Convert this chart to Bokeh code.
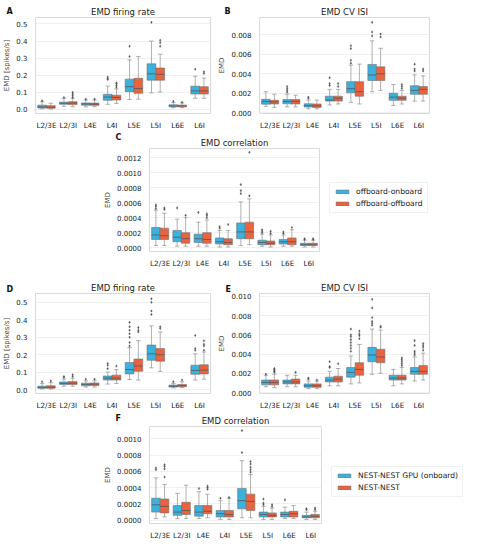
from bokeh.plotting import figure
from bokeh.layouts import column, row
from bokeh.models import (FactorRange, Range1d, ColumnDataSource, FixedTicker,
                          PrintfTickFormatter, Legend, LegendItem, Spacer)
from bokeh.transform import dodge
from bokeh.core.properties import value
from bokeh.embed import file_html
from bokeh.resources import INLINE

cats = ["L2/3E", "L2/3I", "L4E", "L4I", "L5E", "L5I", "L6E", "L6I"]

# each row: [lower whisker, q1, median, q3, upper whisker]
A_blue = [[0.003, 0.008, 0.015, 0.025, 0.045], [0.018, 0.030, 0.036, 0.042, 0.065],
          [0.015, 0.025, 0.032, 0.038, 0.055], [0.030, 0.053, 0.072, 0.088, 0.136],
          [0.058, 0.104, 0.133, 0.177, 0.290], [0.097, 0.171, 0.208, 0.267, 0.400],
          [0.010, 0.015, 0.020, 0.027, 0.040], [0.065, 0.090, 0.108, 0.136, 0.194]]
A_blue_out = [[0.05], [0.07], [0.06], [0.175, 0.18, 0.19], [0.31, 0.37], [0.51], [0.048], [0.235]]
A_orange = [[0.002, 0.007, 0.013, 0.022, 0.036], [0.015, 0.028, 0.037, 0.045, 0.065],
            [0.016, 0.024, 0.030, 0.037, 0.055], [0.035, 0.055, 0.070, 0.083, 0.120],
            [0.060, 0.094, 0.122, 0.182, 0.310], [0.102, 0.171, 0.205, 0.242, 0.323],
            [0.010, 0.015, 0.020, 0.025, 0.038], [0.065, 0.090, 0.108, 0.133, 0.183]]
A_orange_out = [[], [0.07, 0.08, 0.09, 0.10], [0.06], [0.13, 0.14, 0.15, 0.155], [],
                [0.37, 0.39, 0.405], [0.042], [0.21, 0.22]]

B_blue = [[0.00066, 0.00088, 0.00116, 0.00138, 0.00216], [0.0006, 0.00092, 0.00115, 0.00135, 0.0019],
          [0.0004, 0.00058, 0.00072, 0.00092, 0.0013], [0.0008, 0.0012, 0.0013, 0.0017, 0.0024],
          [0.00106, 0.00206, 0.00247, 0.0032, 0.0049], [0.00216, 0.00331, 0.00388, 0.00497, 0.0074],
          [0.00075, 0.00128, 0.0016, 0.0020, 0.0029], [0.0012, 0.0019, 0.0023, 0.00278, 0.0039]]
B_blue_out = [[], [0.0021, 0.0023, 0.0025, 0.0027], [0.0015, 0.0016], [0.0028, 0.0030, 0.0036],
              [0.0051, 0.0054, 0.0066, 0.0069], [0.0079, 0.0083, 0.0093], [], [0.0043, 0.0045, 0.0050]]
B_orange = [[0.00056, 0.0009, 0.00112, 0.00128, 0.0019], [0.0006, 0.0009, 0.00118, 0.00135, 0.0018],
            [0.0004, 0.00055, 0.0007, 0.0009, 0.0013], [0.0009, 0.0012, 0.0015, 0.0017, 0.0024],
            [0.0009, 0.0017, 0.00216, 0.0032, 0.0050], [0.0023, 0.00331, 0.0040, 0.00472, 0.00663],
            [0.0009, 0.00128, 0.0015, 0.0017, 0.0023], [0.0012, 0.0019, 0.0024, 0.0027, 0.0038]]
B_orange_out = [[], [], [], [0.0027, 0.0030], [], [0.0078, 0.0081], [0.0025, 0.0027, 0.0029], [0.0043, 0.0045]]

C_blue = [[3e-5, 11e-5, 17e-5, 27e-5, 50e-5], [2e-5, 8e-5, 14e-5, 23e-5, 38e-5],
          [2e-5, 7e-5, 12e-5, 18e-5, 34e-5], [1e-5, 5e-5, 8e-5, 13e-5, 23e-5],
          [3e-5, 12e-5, 21e-5, 33e-5, 61e-5], [2e-5, 4e-5, 7e-5, 10e-5, 18e-5],
          [2e-5, 5e-5, 8e-5, 11e-5, 17e-5], [1e-5, 3e-5, 4e-5, 6e-5, 10e-5]]
C_blue_out = [[52e-5, 55e-5, 57e-5], [53e-5], [47e-5], [26e-5, 28e-5], [72e-5, 76e-5, 84e-5],
              [20e-5, 22e-5, 24e-5], [19e-5, 21e-5], [11e-5, 12e-5]]
C_orange = [[3e-5, 11e-5, 16e-5, 26e-5, 46e-5], [2e-5, 6e-5, 12e-5, 20e-5, 40e-5],
            [2e-5, 6e-5, 11e-5, 20e-5, 37e-5], [1e-5, 4e-5, 7e-5, 12e-5, 23e-5],
            [4e-5, 12e-5, 21e-5, 34e-5, 65e-5], [1e-5, 4e-5, 6e-5, 9e-5, 17e-5],
            [2e-5, 4e-5, 8e-5, 13e-5, 24e-5], [1e-5, 3e-5, 4e-5, 6e-5, 10e-5]]
C_orange_out = [[51e-5, 53e-5], [43e-5], [40e-5, 43e-5, 45e-5], [31e-5], [69e-5, 127e-5],
                [19e-5, 22e-5], [27e-5], [11e-5, 12e-5]]

D_blue = [[0.004, 0.008, 0.013, 0.020, 0.035], [0.020, 0.030, 0.036, 0.044, 0.060],
          [0.015, 0.022, 0.030, 0.037, 0.050], [0.032, 0.055, 0.066, 0.078, 0.100],
          [0.058, 0.090, 0.115, 0.155, 0.240], [0.125, 0.168, 0.205, 0.255, 0.365],
          [0.010, 0.015, 0.020, 0.026, 0.036], [0.055, 0.088, 0.110, 0.140, 0.205]]
D_blue_out = [[0.045], [0.070, 0.075], [0.060], [0.12, 0.14, 0.15],
              [0.25, 0.27, 0.30, 0.32, 0.34, 0.36, 0.385], [0.43, 0.45, 0.50, 0.52], [0.045],
              [0.225, 0.235, 0.31]]
D_orange = [[0.004, 0.008, 0.014, 0.022, 0.040], [0.020, 0.030, 0.037, 0.046, 0.065],
            [0.015, 0.024, 0.031, 0.038, 0.050], [0.035, 0.055, 0.066, 0.083, 0.115],
            [0.055, 0.105, 0.135, 0.175, 0.280], [0.105, 0.163, 0.200, 0.235, 0.330],
            [0.012, 0.017, 0.023, 0.029, 0.045], [0.060, 0.090, 0.112, 0.142, 0.215]]
D_orange_out = [[0.050], [0.075, 0.085], [0.060], [0.135], [0.33, 0.34, 0.355], [0.35, 0.36],
                [0.055], [0.225, 0.25, 0.26, 0.28]]

E_blue = [[0.0006, 0.0008, 0.00105, 0.0013, 0.0018], [0.0006, 0.0009, 0.0011, 0.0013, 0.0018],
          [0.0004, 0.00055, 0.0007, 0.0009, 0.0012], [0.0007, 0.0011, 0.0013, 0.0016, 0.0022],
          [0.0009, 0.0016, 0.0021, 0.0026, 0.0038], [0.0019, 0.0032, 0.0039, 0.0047, 0.0066],
          [0.0007, 0.0013, 0.0015, 0.0018, 0.0024], [0.0012, 0.0019, 0.0022, 0.0026, 0.0037]]
E_blue_out = [[0.0019], [], [0.0014, 0.0015], [0.0026, 0.0027, 0.0032],
              [0.0043, 0.0046, 0.0049, 0.0052, 0.0055, 0.0058, 0.0060, 0.0066],
              [0.0070, 0.0072, 0.0074, 0.0078, 0.0088, 0.0097], [],
              [0.0039, 0.0041, 0.0043, 0.0049, 0.0054]]
E_orange = [[0.0005, 0.0008, 0.00105, 0.0013, 0.0019], [0.0006, 0.0009, 0.0011, 0.0014, 0.0018],
            [0.0004, 0.00055, 0.0007, 0.0009, 0.0012], [0.0007, 0.0011, 0.0014, 0.0017, 0.0025],
            [0.0010, 0.0018, 0.0024, 0.0031, 0.0050], [0.0020, 0.0031, 0.0037, 0.0045, 0.0065],
            [0.0009, 0.0013, 0.0015, 0.0018, 0.0026], [0.0013, 0.0019, 0.0022, 0.0028, 0.0041]]
E_orange_out = [[0.0021, 0.0022, 0.0023, 0.0024, 0.0025], [0.0021], [0.0013], [0.0030],
                [0.0056, 0.0059, 0.0061, 0.0064], [0.0068, 0.0069],
                [0.0028, 0.0030, 0.0032, 0.0034, 0.0036], [0.0044, 0.0047, 0.0049, 0.0051]]

F_blue = [[2e-5, 10e-5, 19e-5, 27e-5, 52e-5], [2e-5, 6e-5, 10e-5, 18e-5, 33e-5],
          [2e-5, 5e-5, 10e-5, 18e-5, 35e-5], [1e-5, 4e-5, 8e-5, 12e-5, 24e-5],
          [3e-5, 14e-5, 24e-5, 39e-5, 73e-5], [1e-5, 4e-5, 7e-5, 10e-5, 17e-5],
          [2e-5, 4e-5, 7e-5, 10e-5, 16e-5], [1e-5, 3e-5, 4e-5, 6e-5, 10e-5]]
F_blue_out = [[62e-5, 64e-5], [], [39e-5], [27e-5], [83e-5, 110e-5], [19e-5, 21e-5, 26e-5],
              [25e-5], [13e-5, 14e-5]]
F_orange = [[4e-5, 9e-5, 17e-5, 26e-5, 44e-5], [2e-5, 7e-5, 12e-5, 22e-5, 43e-5],
            [3e-5, 8e-5, 11e-5, 18e-5, 32e-5], [1e-5, 4e-5, 7e-5, 12e-5, 27e-5],
            [3e-5, 12e-5, 23e-5, 32e-5, 56e-5], [1e-5, 4e-5, 6e-5, 9e-5, 15e-5],
            [2e-5, 4e-5, 8e-5, 11e-5, 18e-5], [1e-5, 3e-5, 5e-5, 7e-5, 11e-5]]
F_orange_out = [[53e-5, 63e-5, 66e-5, 68e-5], [], [38e-5, 40e-5, 42e-5], [28e-5],
                [59e-5, 62e-5, 65e-5, 69e-5, 72e-5], [17e-5, 19e-5], [], [13e-5, 15e-5]]

titles = ["EMD firing rate", "EMD CV ISI", "EMD correlation"]
ylabels = ["EMD [spikes/s]", "EMD", "EMD"]
letters = ["A", "B", "C", "D", "E", "F"]
legend_top = ["offboard-onboard", "offboard-offboard"]
legend_bottom = ["NEST-NEST GPU (onboard)", "NEST-NEST"]

BLUE = "#3cb1dd"
ORANGE = "#e8633e"
EDGE = "#6e6e6e"
WHISK = "#9a9a9a"
FONT = "DejaVu Sans"


def add_series(p, stats, outs, off, color):
    src = ColumnDataSource(dict(cat=cats,
                                wl=[s[0] for s in stats], q1=[s[1] for s in stats],
                                med=[s[2] for s in stats], q3=[s[3] for s in stats],
                                wh=[s[4] for s in stats]))
    xc = dodge("cat", off, range=p.x_range)
    p.segment(x0=xc, y0="q3", x1=xc, y1="wh", source=src, line_color=WHISK, line_width=0.8)
    p.segment(x0=xc, y0="q1", x1=xc, y1="wl", source=src, line_color=WHISK, line_width=0.8)
    for yk in ("wh", "wl"):
        p.segment(x0=dodge("cat", off - 0.1, range=p.x_range), y0=yk,
                  x1=dodge("cat", off + 0.1, range=p.x_range), y1=yk,
                  source=src, line_color=WHISK, line_width=0.8)
    p.vbar(x=xc, bottom="q1", top="q3", width=0.4, source=src,
           fill_color=color, line_color=EDGE, line_width=0.6)
    p.segment(x0=dodge("cat", off - 0.2, range=p.x_range), y0="med",
              x1=dodge("cat", off + 0.2, range=p.x_range), y1="med",
              source=src, line_color="#555555", line_width=0.8)
    ox, oy = [], []
    for c, vals in zip(cats, outs):
        for v in vals:
            ox.append(c)
            oy.append(v)
    osrc = ColumnDataSource(dict(cat=ox, y=oy))
    p.scatter(x=dodge("cat", off, range=p.x_range), y="y", source=osrc, marker="diamond",
              size=2.6, fill_color="#555555", line_color="#555555", line_width=0.3)


def panel(blue, blue_out, orange, orange_out, title, ylabel, yr, ticks, fmt,
          w, h, bl, bt, fw, fh):
    p = figure(width=w, height=h, x_range=FactorRange(factors=cats),
               y_range=Range1d(*yr), output_backend="svg", toolbar_location=None,
               min_border_left=bl, min_border_top=bt,
               min_border_right=w - bl - fw, min_border_bottom=h - bt - fh)
    p.title.text = title
    p.title.align = "center"
    p.title.text_font = FONT
    p.title.text_font_size = "8.5px"
    p.title.text_font_style = "normal"
    p.title.text_color = "#222222"
    p.title.standoff = 1
    p.outline_line_color = "#cfcfcf"
    p.outline_line_width = 0.8
    p.xgrid.grid_line_color = None
    p.ygrid.grid_line_color = "#ececec"
    p.ygrid.grid_line_width = 0.8
    p.yaxis.ticker = FixedTicker(ticks=ticks)
    p.yaxis.formatter = PrintfTickFormatter(format=fmt)
    p.yaxis.axis_label = ylabel
    p.yaxis.axis_label_text_font = FONT
    p.yaxis.axis_label_text_font_size = "7px"
    p.yaxis.axis_label_text_font_style = "normal"
    p.yaxis.axis_label_standoff = 2
    for ax in (p.xaxis, p.yaxis):
        ax.axis_line_color = None
        ax.major_tick_line_color = None
        ax.minor_tick_line_color = None
        ax.major_label_text_font = FONT
        ax.major_label_text_font_size = "7px"
        ax.major_label_text_color = "#222222"
        ax.major_label_standoff = 2
    p.xaxis.major_label_text_font_size = "7.2px"
    p.xaxis.major_label_standoff = 1
    add_series(p, blue, blue_out, -0.2, BLUE)
    add_series(p, orange, orange_out, 0.2, ORANGE)
    return p


def bare(w, h):
    q = figure(width=w, height=h, x_range=Range1d(0, 1), y_range=Range1d(0, 1),
               output_backend="svg", toolbar_location=None,
               x_axis_location=None, y_axis_location=None,
               min_border_left=0, min_border_right=0, min_border_top=0, min_border_bottom=0)
    q.grid.visible = False
    q.outline_line_color = None
    q.background_fill_alpha = 0
    q.border_fill_alpha = 0
    return q


def letter_fig(letter, margin):
    q = bare(16, 16)
    q.margin = margin
    q.text(x=[0.06], y=[0.5], text=[letter], text_baseline="middle", text_align="left",
           text_font=value(FONT), text_font_size="8px", text_font_style="bold",
           text_color="#111111")
    return q


def legend_fig(labels, w, h):
    q = bare(w, h)
    hidden = ColumnDataSource(dict(x=[5.0], top=[5.0]))
    r1 = q.vbar(x="x", top="top", width=0.1, source=hidden, fill_color=BLUE, line_color=EDGE, line_width=0.5)
    r2 = q.vbar(x="x", top="top", width=0.1, source=hidden, fill_color=ORANGE, line_color=EDGE, line_width=0.5)
    leg = Legend(items=[LegendItem(label=labels[0], renderers=[r1]),
                        LegendItem(label=labels[1], renderers=[r2])],
                 location="top_left", orientation="vertical")
    leg.label_text_font = FONT
    leg.label_text_font_size = "7.6px"
    leg.label_text_color = "#222222"
    leg.glyph_width = 16
    leg.glyph_height = 5
    leg.label_height = 8
    leg.label_standoff = 6
    leg.spacing = 3
    leg.padding = 4
    leg.margin = 0
    leg.border_line_color = "#e4e4e4"
    leg.border_line_width = 0.8
    leg.background_fill_color = "white"
    q.add_layout(leg, "center")
    return q


t1 = [0.0, 0.1, 0.2, 0.3, 0.4, 0.5]
t2 = [0.0, 0.002, 0.004, 0.006, 0.008]
t3 = [0.0, 0.0002, 0.0004, 0.0006, 0.0008, 0.0010, 0.0012]
t5 = [0.0, 0.002, 0.004, 0.006, 0.008, 0.010]
t6 = [0.0, 0.0002, 0.0004, 0.0006, 0.0008, 0.0010]

pA = panel(A_blue, A_blue_out, A_orange, A_orange_out, titles[0], ylabels[0],
           (-0.024, 0.538), t1, "%.1f", 215, 132, 26, 17, 184, 104)
pB = panel(B_blue, B_blue_out, B_orange, B_orange_out, titles[1], ylabels[1],
           (-0.00008, 0.0098), t2, "%.3f", 252, 132, 32, 17, 182, 104)
pC = panel(C_blue, C_blue_out, C_orange, C_orange_out, titles[2], ylabels[2],
           (-0.00005, 0.00132), t3, "%.4f", 228, 144, 36, 16, 182, 103)
pD = panel(D_blue, D_blue_out, D_orange, D_orange_out, titles[0], ylabels[0],
           (-0.022, 0.55), t1, "%.1f", 215, 136, 26, 17, 184, 107)
pE = panel(E_blue, E_blue_out, E_orange, E_orange_out, titles[1], ylabels[1],
           (-0.0001, 0.0103), t5, "%.3f", 252, 136, 32, 17, 182, 107)
pF = panel(F_blue, F_blue_out, F_orange, F_orange_out, titles[2], ylabels[2],
           (-0.00004, 0.00115), t6, "%.4f", 230, 130, 36, 14, 184, 103)

# letter figures are laid after the panels and pulled back over their top-left corners
lA = letter_fig(letters[0], (4, 194, 0, -210))
lB = letter_fig(letters[1], (4, 228, 0, -244))
lC = letter_fig(letters[2], (1, 337, 0, -353))
lD = letter_fig(letters[3], (6, 194, 0, -210))
lE = letter_fig(letters[4], (6, 227, 0, -243))
lF = letter_fig(letters[5], (0, 337, 0, -353))

legC = column(Spacer(width=138, height=50), legend_fig(legend_top, 138, 34))
legF = column(Spacer(width=136, height=54), legend_fig(legend_bottom, 136, 34))

layout = column(row(pA, lA, pB, lB),
                row(Spacer(width=101, height=144), pC, legC, lC),
                row(pD, lD, pE, lE),
                row(Spacer(width=101, height=130), pF, legF, lF))

open("out.html", "w").write(file_html(layout, INLINE))
